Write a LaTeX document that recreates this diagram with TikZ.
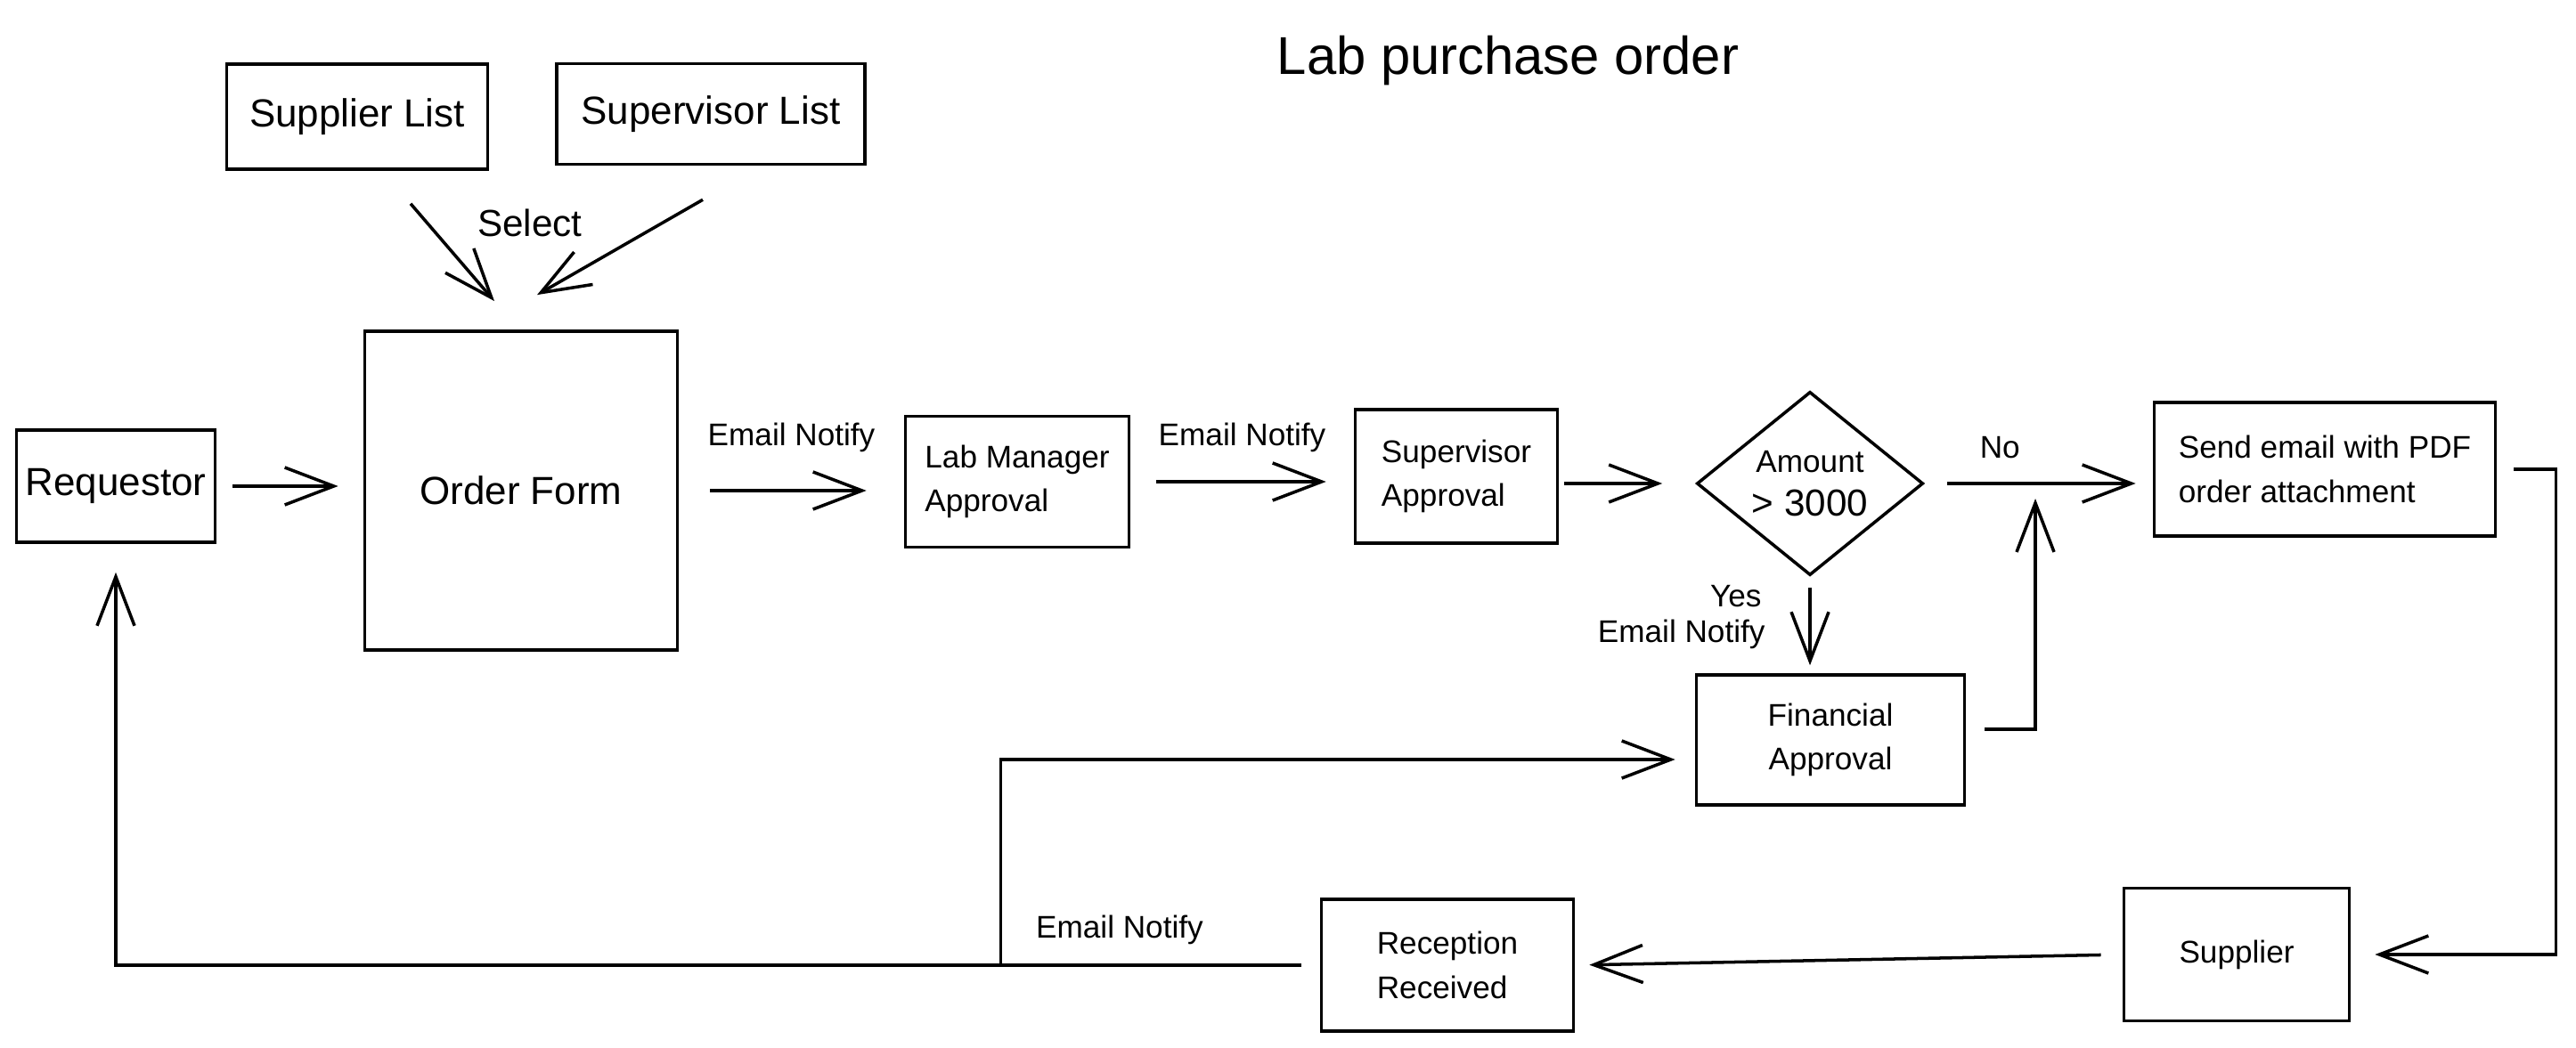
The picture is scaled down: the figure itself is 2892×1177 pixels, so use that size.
\documentclass[tikz,border=0pt]{standalone}
\usepackage{fontspec}
\setmainfont{Liberation Sans}
\usepackage{tikz}
\usetikzlibrary{arrows.meta, shapes.geometric, calc}

\begin{document}
\begin{tikzpicture}[x=0.01cm, y=-0.01cm,
    box/.style={draw, line width=1pt, inner sep=0pt, font=\fontsize{10}{14}\selectfont},
    bigbox/.style={box, font=\fontsize{12.5}{15}\selectfont},
    lbl/.style={font=\fontsize{10}{12}\selectfont},
    arr/.style={line width=1pt, -{Straight Barb[length=0.55cm, width=0.42cm]}}]

\useasboundingbox (0,0) rectangle (2892,1177);

% =========================
% Title and lists
% =========================
\node[font=\fontsize{17}{20}\selectfont] (title) at (1693,68) {Lab purchase order};

\node[bigbox, minimum width=2.93cm, minimum height=1.18cm] (suppList) at (401,131) {Supplier List};
\node[bigbox, minimum width=3.46cm, minimum height=1.13cm] (supvList) at (798,128) {Supervisor List};
\node[font=\fontsize{12}{14}\selectfont] (select) at (595,250) {Select};

% =========================
% Main row
% =========================
\node[bigbox, minimum width=2.23cm, minimum height=1.26cm] (requestor) at (130,546) {Requestor};
\node[bigbox, minimum width=3.51cm, minimum height=3.58cm] (orderForm) at (585,551) {Order Form};
\node[box, align=left, minimum width=2.51cm, minimum height=1.47cm] (labMgr) at (1142,541) {Lab Manager\\Approval};
\node[box, align=left, minimum width=2.27cm, minimum height=1.50cm] (supAppr) at (1635,535) {Supervisor\\Approval};
\node[box, diamond, shape aspect=1.23, align=center, minimum width=2.54cm, minimum height=2.06cm]
    (amount) at (2032,543) {Amount\\{\fontsize{12}{14}\selectfont > 3000}};
\node[box, align=left, minimum width=3.83cm, minimum height=1.50cm] (sendMail) at (2610,527) {Send email with PDF\\order attachment};
\node[box, align=center, minimum width=3.01cm, minimum height=1.46cm] (finAppr) at (2055,831) {Financial\\Approval};

% =========================
% Bottom row
% =========================
\node[box, minimum width=2.53cm, minimum height=1.49cm] (supplier) at (2511,1072) {Supplier};
\node[box, align=left, minimum width=2.83cm, minimum height=1.48cm] (reception) at (1625,1084) {Reception\\Received};

% Select arrows
\draw[arr] ($(suppList.south)+(60,37)$) -- ($(orderForm.north)+(-30,-32)$);
\draw[arr] ($(supvList.south)+(-9,38)$) -- ($(orderForm.north)+(18,-39)$);

% Approval chain
\draw[arr, shorten <=0.18cm, shorten >=0.28cm] (requestor.east) -- (requestor.east -| orderForm.west);
\draw[arr, shorten <=0.35cm, shorten >=0.42cm] (orderForm.east) -- (orderForm.east -| labMgr.west)
    node[lbl, midway, yshift=0.6cm] (noteLab) {Email Notify};
\draw[arr, shorten <=0.29cm, shorten >=0.31cm] (labMgr.east) -- (labMgr.east -| supAppr.west)
    node[lbl, midway, yshift=0.5cm] (noteSup) {Email Notify};
\draw[arr, shorten <=0.06cm, shorten >=0.37cm] (amount.west -| supAppr.east) -- (amount.west);

% Decision
\draw[arr, shorten <=0.25cm, shorten >=0.19cm] (amount.east) -- (amount.east -| sendMail.west)
    node[lbl, pos=0.33, yshift=0.4cm] (noLbl) {No};
\draw[arr, shorten <=0.12cm, shorten >=0.09cm] (amount.south) -- (amount.south |- finAppr.north)
    node[lbl, pos=0.2, left=0.41cm] (yesLbl) {Yes}
    node[lbl, pos=0.6, left=0.37cm] (noteFin) {Email Notify};

% Financial approval joins the No branch
\coordinate (merge) at (2285,560);
\draw[arr, shorten <=0.21cm] ([yshift=0.12cm]finAppr.east) -| (merge);

% Order goes out and comes back
\draw[arr, shorten <=0.19cm, shorten >=0.27cm] (sendMail.east) -- ++(66,0) |- (supplier.east);
\draw[arr, shorten <=0.24cm, shorten >=0.16cm] (supplier.west) -- (reception.east);
\draw[arr, shorten <=0.21cm, shorten >=0.32cm] (reception.west) -| (requestor.south);

% Notify financial approval
\coordinate (tap) at ($(reception.west)+(-358,0)$);
\draw[arr, shorten >=0.22cm] (tap) |- ([yshift=-0.22cm]finAppr.west)
    node[lbl, pos=0, anchor=south west, xshift=0.26cm, yshift=0.1cm] (noteRecv) {Email Notify};

\end{tikzpicture}
\end{document}
